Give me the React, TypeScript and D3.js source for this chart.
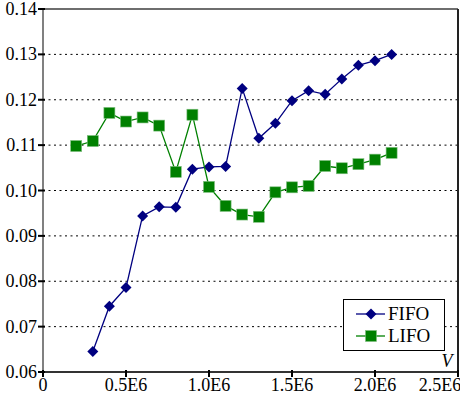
import React from 'react';
import * as d3 from 'd3';

// values
const fifoV = [0.3, 0.4, 0.5, 0.6, 0.7, 0.8, 0.9, 1.0, 1.1, 1.2, 1.3, 1.4, 1.5, 1.6, 1.7, 1.8, 1.9, 2.0, 2.1];
const fifoY = [0.0645, 0.0745, 0.0786, 0.0944, 0.0964, 0.0963, 0.1047, 0.1052, 0.1053, 0.1225, 0.1115, 0.1148, 0.1198, 0.1220, 0.1212, 0.1246, 0.1276, 0.1286, 0.1300];
const lifoV = [0.2, 0.3, 0.4, 0.5, 0.6, 0.7, 0.8, 0.9, 1.0, 1.1, 1.2, 1.3, 1.4, 1.5, 1.6, 1.7, 1.8, 1.9, 2.0, 2.1];
const lifoY = [0.1098, 0.1109, 0.1171, 0.1152, 0.1161, 0.1143, 0.1041, 0.1167, 0.1008, 0.0966, 0.0947, 0.0942, 0.0996, 0.1007, 0.1010, 0.1054, 0.1049, 0.1058, 0.1068, 0.1083];
const xTicks = [0, 0.5, 1.0, 1.5, 2.0, 2.5];
const xTickLabels = ['0', '0.5E6', '1.0E6', '1.5E6', '2.0E6', '2.5E6'];
const yTicks = [0.06, 0.07, 0.08, 0.09, 0.10, 0.11, 0.12, 0.13, 0.14];

const FONT = "'Liberation Serif', 'Times New Roman', Times, serif";

export default function App() {
  const x = d3.scaleLinear().domain([0, 2.5]).range([43, 458]);
  const y = d3.scaleLinear().domain([0.06, 0.14]).range([372, 9]);

  const fifo = fifoV.map((v, i) => [v, fifoY[i]] as [number, number]);
  const lifo = lifoV.map((v, i) => [v, lifoY[i]] as [number, number]);

  const line = d3.line<[number, number]>()
    .x((d) => x(d[0]))
    .y((d) => y(d[1]));

  const diamond = (cx: number, cy: number, r: number) =>
    `M${cx},${cy - r}L${cx + r},${cy}L${cx},${cy + r}L${cx - r},${cy}Z`;

  const [x0, x1] = x.range();
  const [yb, yt] = y.range();

  return (
    <svg width={460} height={395}
      style={{ position: 'absolute', left: 0, top: 0, background: '#fff', fontFamily: FONT }}>
      {/* dotted gridlines */}
      {yTicks.slice(1, -1).map((t) => (
        <line key={'g' + t} x1={x0} x2={x1} y1={y(t)} y2={y(t)}
          stroke="#000" strokeWidth={1} strokeDasharray="2,3.5" />
      ))}

      {/* frame */}
      <line x1={x0} x2={x1} y1={yt} y2={yt} stroke="#6e6e6e" strokeWidth={2} />
      <line x1={x1} x2={x1} y1={yt} y2={yb} stroke="#222" strokeWidth={2} />
      <line x1={x0} x2={x0} y1={yt} y2={yb} stroke="#808080" strokeWidth={2} />
      <line x1={x0} x2={x1} y1={yb} y2={yb} stroke="#333" strokeWidth={2} />

      {/* y ticks */}
      {yTicks.map((t) => (
        <g key={'y' + t}>
          <line x1={x0 - 5} x2={x0 + 2} y1={y(t)} y2={y(t)} stroke="#000" strokeWidth={2} />
          <text x={37} y={y(t) + 6} textAnchor="end" fontSize={18} fill="#000">
            {d3.format('.2f')(t)}
          </text>
        </g>
      ))}

      {/* x ticks */}
      {xTicks.map((t, i) => (
        <g key={'x' + t}>
          <line x1={x(t)} x2={x(t)} y1={yb - 2} y2={yb + 5} stroke="#000" strokeWidth={2} />
          <text x={Math.min(x(t), 440)} y={391} textAnchor="middle" fontSize={18} fill="#000">
            {xTickLabels[i]}
          </text>
        </g>
      ))}

      <text x={447} y={367} textAnchor="middle" fontSize={18} fontStyle="italic" fill="#000">V</text>

      {/* FIFO */}
      <path d={line(fifo) ?? ''} fill="none" stroke="#000080" strokeWidth={1.3} />
      {fifo.map((d, i) => (
        <path key={'f' + i} d={diamond(x(d[0]), y(d[1]), 5.5)} fill="#000080" />
      ))}

      {/* LIFO */}
      <path d={line(lifo) ?? ''} fill="none" stroke="#008000" strokeWidth={1.3} />
      {lifo.map((d, i) => (
        <rect key={'l' + i} x={x(d[0]) - 5.5} y={y(d[1]) - 5.5} width={11} height={11}
          fill="#008000" stroke="#7fbf7f" strokeWidth={0.6} />
      ))}

      {/* legend */}
      <rect x={343.5} y={299.5} width={101} height={51} fill="#fff" stroke="#000" strokeWidth={1} />
      <line x1={356} x2={385} y1={314} y2={314} stroke="#000080" strokeWidth={1.3} />
      <path d={diamond(371, 314, 5.5)} fill="#000080" />
      <text x={388} y={320} fontSize={19} fill="#000">FIFO</text>
      <line x1={356} x2={385} y1={336} y2={336} stroke="#008000" strokeWidth={1.3} />
      <rect x={365.5} y={330.5} width={11} height={11} fill="#008000" stroke="#7fbf7f" strokeWidth={0.6} />
      <text x={388} y={342} fontSize={19} fill="#000">LIFO</text>
    </svg>
  );
}
